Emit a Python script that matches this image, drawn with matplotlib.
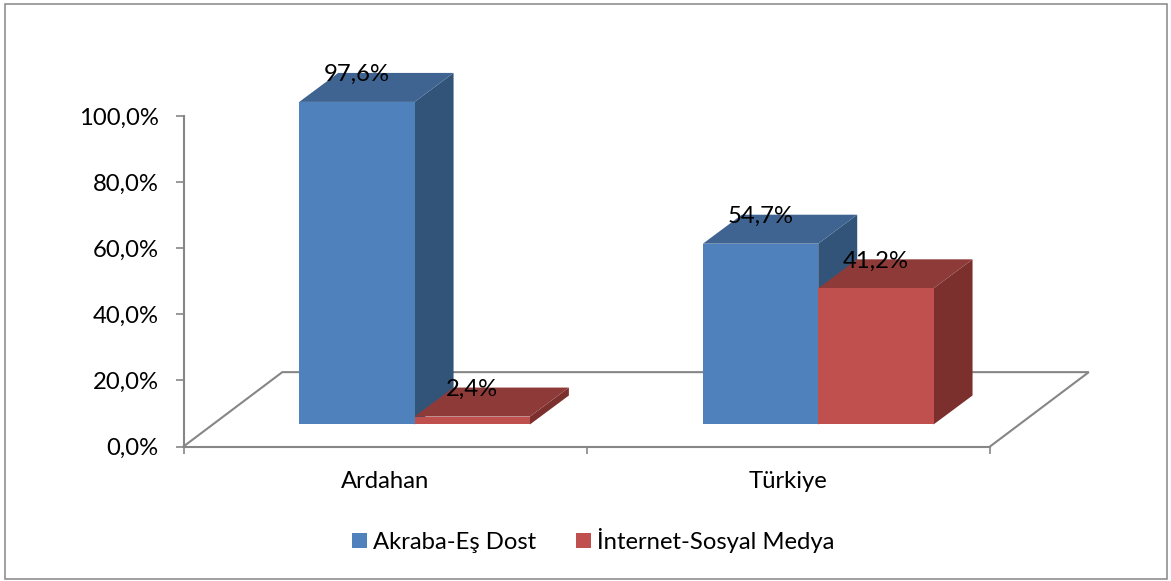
import matplotlib
matplotlib.use("Agg")
import matplotlib.pyplot as plt
from matplotlib.patches import Polygon, Rectangle, Patch

plt.rcParams['font.family'] = ['Lato', 'DejaVu Sans']

categories = ["Ardahan", "Türkiye"]
series_names = ["Akraba-Eş Dost", "İnternet-Sosyal Medya"]
akraba = [97.6, 54.7]
internet = [2.4, 41.2]
y_ticks = [0, 20, 40, 60, 80, 100]

front_colors = ["#4F81BD", "#C0504D"]
top_colors = ["#3F6491", "#8E3A38"]
side_colors = ["#335479", "#7B302E"]
grey = "#868686"
font_size = 17.2

W, H = 1171, 581
fig = plt.figure(figsize=(W / 100, H / 100), dpi=100)
fig.patch.set_facecolor("white")
fig.add_artist(Rectangle((5.5 / W, 1 - 579 / H), 1161.5 / W, 575 / H, transform=fig.transFigure,
                         fill=False, edgecolor=grey, linewidth=1.1))

# axes box in pixels
left, right, bottom, top = 183.5, 990, 446.5, 116
ax = fig.add_axes([left / W, 1 - bottom / H, (right - left) / W, (bottom - top) / H])
ax.set_xlim(0, 2)
ax.set_ylim(0, 100)
ax.patch.set_alpha(0)

# fake 3d: depth and floor lift in data units
depth_x = 39 / ((right - left) / 2)
depth_y = 29 / ((bottom - top) / 100)
floor_lift = 6.66
bar_w = 0.286
group_x = [0.573, 1.574]

# floor
floor_x = 0.245
floor_y = 22.5
ax.plot([0, floor_x, 2 + floor_x, 2], [0, floor_y, floor_y, 0], color=grey, lw=1.5,
        zorder=1, clip_on=False, solid_joinstyle="miter")


def draw_bar(x0, value, i, z):
    x1 = x0 + bar_w
    y0 = floor_lift
    y1 = floor_lift + value
    ax.bar(x0, value, width=bar_w, bottom=y0, align="edge", color=front_colors[i],
           zorder=z + 0.2, clip_on=False)
    ax.add_patch(Polygon([(x1, y0), (x1 + depth_x, y0 + depth_y), (x1 + depth_x, y1 + depth_y), (x1, y1)],
                         facecolor=side_colors[i], edgecolor="none", zorder=z, clip_on=False))
    ax.add_patch(Polygon([(x0, y1), (x0 + depth_x, y1 + depth_y), (x1 + depth_x, y1 + depth_y), (x1, y1)],
                         facecolor=top_colors[i], edgecolor="none", zorder=z + 0.1, clip_on=False))
    label = f"{value:.1f}%".replace(".", ",")
    ax.annotate(label, (x0 + bar_w / 2, y1), xytext=(0, 19.5), textcoords="offset points",
                ha="center", va="center", fontsize=font_size, color="black", zorder=10, annotation_clip=False)


for k, gx in enumerate(group_x):
    draw_bar(gx - bar_w, akraba[k], 0, 2 + k)
    draw_bar(gx, internet[k], 1, 3 + k)

# axes
for s in ["top", "right"]:
    ax.spines[s].set_visible(False)
for s in ["left", "bottom"]:
    ax.spines[s].set_color(grey)
    ax.spines[s].set_linewidth(1.5)

ax.set_yticks(y_ticks)
ax.set_yticklabels([f"{t:.1f}%".replace(".", ",") for t in y_ticks], fontsize=font_size)
ax.tick_params(axis="y", length=6, width=1.2, color=grey, pad=12)
ax.set_xticks([0, 1, 2])
ax.set_xticklabels([])
ax.tick_params(axis="x", which="major", length=5, width=1.2, color=grey)
ax.set_xticks([0.5, 1.5], minor=True)
ax.set_xticklabels(categories, minor=True, fontsize=font_size)
ax.tick_params(axis="x", which="minor", length=0, pad=18)

handles = [Patch(facecolor=front_colors[0], label=series_names[0]),
           Patch(facecolor=front_colors[1], label=series_names[1])]
fig.legend(handles=handles, loc="center", bbox_to_anchor=(593 / W, 1 - 540.5 / H), ncol=2,
           frameon=False, fontsize=font_size, handlelength=0.63, handleheight=0.63,
           handletextpad=0.25, columnspacing=1.67)

fig.savefig("out.png", dpi=100)
